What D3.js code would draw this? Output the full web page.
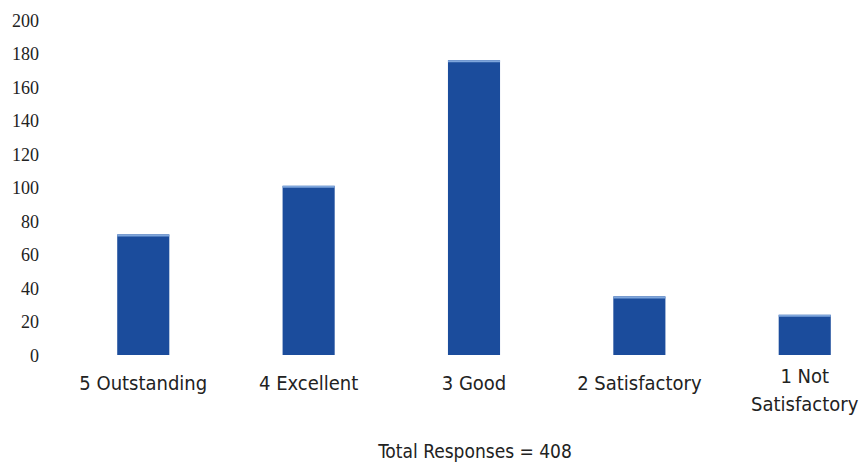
<!DOCTYPE html>
<html><head><meta charset="utf-8">
<script src="https://cdn.jsdelivr.net/npm/d3@7"></script>
<style>
html,body{margin:0;padding:0;background:#fff;}
svg{display:block;}
</style></head>
<body>
<svg id="chart" width="862" height="471"></svg>
<script>
const categories = ["5 Outstanding", "4 Excellent", "3 Good", "2 Satisfactory", "1 Not Satisfactory"];
const labelLines = [["5 Outstanding"], ["4 Excellent"], ["3 Good"], ["2 Satisfactory"], ["1 Not", "Satisfactory"]];
const values = [72, 101, 176, 35, 24];
const yTicks = [0, 20, 40, 60, 80, 100, 120, 140, 160, 180, 200];
const title = "Total Responses = 408";

const svg = d3.select("#chart");
const x = d3.scaleBand().domain(categories).range([61, 887]).paddingInner(0.685).paddingOuter(0.34);
const y = d3.scaleLinear().domain([0, 200]).range([355, 20]);

const yAxis = d3.axisLeft(y).tickValues(yTicks).tickSize(0).tickPadding(0);
const ga = svg.append("g").attr("transform", "translate(39,0)").call(yAxis);
ga.select(".domain").remove();
ga.selectAll("text").attr("font-family", "'Liberation Serif', serif").attr("font-size", 18)
  .attr("fill", "#222").attr("dy", "0.35em");

const bars = svg.append("g");
bars.selectAll("rect").data(values).enter().append("rect")
  .attr("x", (d, i) => x(categories[i]))
  .attr("y", d => y(d))
  .attr("width", x.bandwidth())
  .attr("height", d => y(0) - y(d))
  .attr("fill", "#1b4c9c");
bars.selectAll("line").data(values).enter().append("line")
  .attr("x1", (d, i) => x(categories[i]))
  .attr("x2", (d, i) => x(categories[i]) + x.bandwidth())
  .attr("y1", d => y(d) + 1).attr("y2", d => y(d) + 1)
  .attr("stroke", "#7fa6dc").attr("stroke-width", 2);

const xl = svg.append("g");
labelLines.forEach((lines, i) => {
  const t = xl.append("text")
    .attr("x", x(categories[i]) + x.bandwidth() / 2)
    .attr("y", lines.length > 1 ? 383 : 390)
    .attr("text-anchor", "middle")
    .attr("font-family", "'Liberation Sans Narrow', 'DejaVu Sans Condensed', sans-serif")
    .attr("font-size", 20).attr("fill", "#222");
  lines.forEach((l, j) => t.append("tspan").attr("x", x(categories[i]) + x.bandwidth() / 2).attr("dy", j ? 28 : 0).text(l));
});

svg.append("text").attr("x", 475).attr("y", 458).attr("text-anchor", "middle")
  .attr("font-family", "'Liberation Sans Narrow', 'DejaVu Sans Condensed', sans-serif")
  .attr("font-size", 19).attr("fill", "#222").text(title);
</script>
</body></html>
